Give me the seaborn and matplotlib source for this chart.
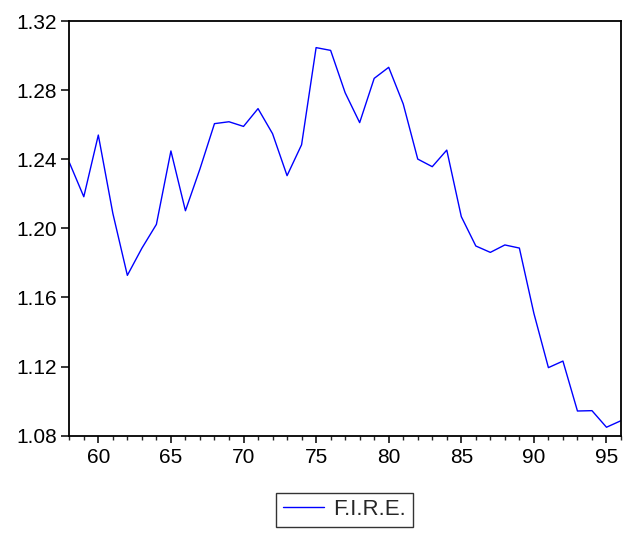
import matplotlib
matplotlib.use("Agg")
import matplotlib.pyplot as plt
import seaborn as sns
import pandas as pd
import numpy as np
from matplotlib.ticker import MultipleLocator

years = list(range(58, 97))
fire = [1.2382, 1.2183, 1.2540, 1.2087, 1.1728, 1.1885, 1.2023, 1.2448, 1.2102, 1.2344,
        1.2606, 1.2617, 1.2590, 1.2693, 1.2548, 1.2305, 1.2484, 1.3046, 1.3030, 1.2785,
        1.2612, 1.2868, 1.2932, 1.2720, 1.2401, 1.2357, 1.2453, 1.2068, 1.1898, 1.1861,
        1.1904, 1.1886, 1.1508, 1.1194, 1.1232, 1.0943, 1.0945, 1.0849, 1.0887]
series_name = "F.I.R.E."
y_ticks = [1.08, 1.12, 1.16, 1.20, 1.24, 1.28, 1.32]
x_ticks = [60, 65, 70, 75, 80, 85, 90, 95]

df = pd.DataFrame({"year": years, "value": fire, "series": series_name})

sns.set_style("ticks")
plt.rcParams['font.family'] = ['Liberation Sans', 'DejaVu Sans']

fig = plt.figure(figsize=(6.23, 5.36), dpi=100)
ax = fig.add_axes([0.1112, 0.1871, 0.8856, 0.7737])

sns.lineplot(data=df, x="year", y="value", hue="series", palette=["#0000ff"],
             linewidth=1.0, ax=ax, legend=True)

ax.set_xlim(58, 96)
ax.set_ylim(1.08, 1.32)
ax.set_yticks(y_ticks)
ax.set_yticklabels([f"{v:.2f}" for v in y_ticks])
ax.set_xticks(x_ticks)
ax.set_xticklabels([str(v) for v in x_ticks])
ax.xaxis.set_minor_locator(MultipleLocator(1))
ax.set_xlabel("")
ax.set_ylabel("")

for s in ax.spines.values():
    s.set_visible(True)
    s.set_linewidth(1.3)
    s.set_color("black")

ax.tick_params(axis="y", which="major", direction="out", length=6, width=1.1,
               labelsize=15, colors="black", right=False, pad=3)
ax.tick_params(axis="x", which="major", direction="out", length=5, width=1.1,
               labelsize=15, colors="black", top=False, pad=4)
ax.tick_params(axis="x", which="minor", direction="out", length=3, width=1.0,
               top=False)
ax.tick_params(axis="y", which="minor", left=False)

ax.get_legend().remove()
handles, labels = ax.get_legend_handles_labels()
leg = fig.legend(handles, [series_name], loc="center", bbox_to_anchor=(0.553, 0.049),
                 frameon=True, fancybox=False, edgecolor="black", fontsize=16,
                 handlelength=1.85, handletextpad=0.4, borderpad=0.3)
leg.get_frame().set_linewidth(1.0)

fig.savefig("out.png", dpi=100, facecolor="white")
